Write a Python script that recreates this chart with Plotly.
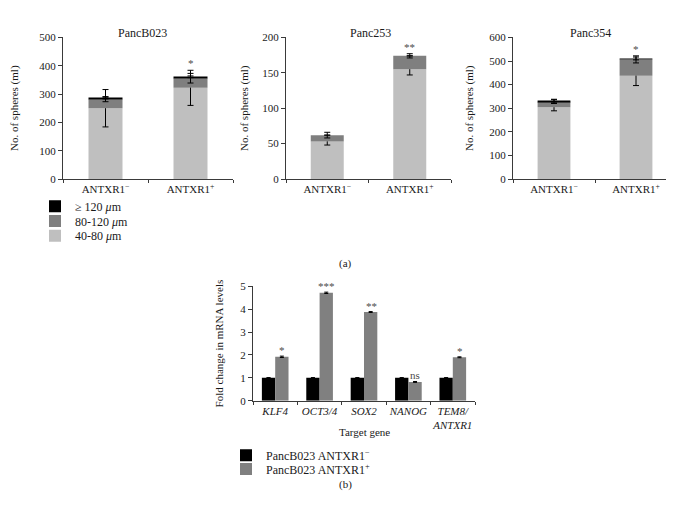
import numpy as np
import plotly.graph_objects as go

W, H = 674, 510

# ---------------- data: panel (a) ----------------
groups = ["ANTXR1<sup>−</sup>", "ANTXR1<sup>+</sup>"]
size_names = ["40-80 <i>μ</i>m", "80-120 <i>μ</i>m", "≥ 120 <i>μ</i>m"]

lines = ["PancB023", "Panc253", "Panc354"]

pancb023_40_80 = [250, 322]
pancb023_80_120 = [32, 34]
pancb023_120 = [4, 5]
pancb023_err_40_80 = [66, 62]
pancb023_err_80_120 = [9, 17]
pancb023_err_120 = [3, 3]
pancb023_sig = ["", "*"]

panc253_40_80 = [53, 155]
panc253_80_120 = [9, 19]
panc253_120 = [0, 0]
panc253_err_40_80 = [5, 8]
panc253_err_80_120 = [4, 3]
panc253_err_120 = [0, 0]
panc253_sig = ["", "**"]

panc354_40_80 = [304, 438]
panc354_80_120 = [24, 69]
panc354_120 = [4, 4]
panc354_err_40_80 = [15, 42]
panc354_err_80_120 = [8, 15]
panc354_err_120 = [6, 6]
panc354_sig = ["", "*"]

y_ranges = [[0, 500], [0, 200], [0, 600]]
y_dticks = [100, 50, 100]

# ---------------- data: panel (b) ----------------
genes = ["KLF4", "OCT3/4", "SOX2", "NANOG", "TEM8/ANTXR1"]
gene_labels = ["<i>KLF4</i>", "<i>OCT3/4</i>", "<i>SOX2</i>", "<i>NANOG</i>", "<i>TEM8/</i><br><i>ANTXR1</i>"]
fold_neg = [1.0, 1.0, 1.0, 1.0, 1.0]
fold_pos = [1.92, 4.72, 3.88, 0.82, 1.90]
fold_neg_err = [0.01, 0.01, 0.01, 0.01, 0.01]
fold_pos_err = [0.03, 0.03, 0.02, 0.02, 0.02]
fold_sig = ["*", "***", "**", "ns", "*"]
series_b = ["PancB023 ANTXR1<sup>−</sup>", "PancB023 ANTXR1<sup>+</sup>"]

# ---------------- styling ----------------
FONT = "Liberation Serif"
TXT = "#1a1a1a"
AX = "#3a3a3a"
SIG = "#4a4a4a"
size_colors = ["#bfbfbf", "#7f7f7f", "#000000"]
b_colors = ["#000000", "#808080"]

def px_x(p):
    return p / W

def px_y(p):
    return 1 - p / H

top_dom_y = [px_y(169), px_y(24)]
top_dom_x = [[px_x(55), px_x(225)], [px_x(278), px_x(443)], [px_x(505), px_x(669)]]
bot_dom_x = [px_x(245), px_x(467)]
bot_dom_y = [px_y(396), px_y(279)]

# one legend per entry so the rows can sit as close as in the reference
size_legends = ["legend4", "legend3", "legend"]     # 40-80, 80-120, >=120
size_legend_rows = [227, 212, 197]
b_legends = ["legend2", "legend5"]
b_legend_rows = [452, 466]

panel_data = [
    (pancb023_40_80, pancb023_80_120, pancb023_120,
     pancb023_err_40_80, pancb023_err_80_120, pancb023_err_120, pancb023_sig),
    (panc253_40_80, panc253_80_120, panc253_120,
     panc253_err_40_80, panc253_err_80_120, panc253_err_120, panc253_sig),
    (panc354_40_80, panc354_80_120, panc354_120,
     panc354_err_40_80, panc354_err_80_120, panc354_err_120, panc354_sig),
]

fig = go.Figure()
annotations = []

for i, (v1, v2, v3, e1, e2, e3, sig) in enumerate(panel_data):
    ax = "" if i == 0 else str(i + 1)
    stack = np.array([v1, v2, v3], dtype=float)
    errs = np.array([e1, e2, e3], dtype=float)
    cum = np.cumsum(stack, axis=0)
    bases = np.vstack([np.zeros(2), cum[:-1]])
    for k in range(3):
        fig.add_trace(go.Bar(
            x=groups, y=stack[k], base=bases[k],
            name=size_names[k], legendgroup=size_names[k],
            showlegend=(i == 0), legend=size_legends[k],
            marker=dict(color=size_colors[k], line=dict(width=0)),
            width=0.4,
            error_y=dict(type="data", array=errs[k], visible=True,
                         color="#000000", thickness=1, width=3),
            xaxis="x" + ax, yaxis="y" + ax,
        ))
    tops_err = np.max(cum + errs, axis=0)
    for j, s in enumerate(sig):
        if s:
            annotations.append(dict(
                x=groups[j], y=tops_err[j], xref="x" + ax, yref="y" + ax,
                text=s, showarrow=False, yanchor="bottom", yshift=-1,
                font=dict(family=FONT, size=11, color=SIG)))
    annotations.append(dict(
        x=[0.47, 0.51, 0.47][i], y=px_y(10), xref=("x" + ax + " domain"), yref="paper",
        text=lines[i], showarrow=False, font=dict(family=FONT, size=12, color=TXT)))

# panel (b) bars
fig.add_trace(go.Bar(
    x=genes, y=fold_neg, name=series_b[0], legend=b_legends[0],
    marker=dict(color=b_colors[0], line=dict(width=0)),
    width=0.3, offset=-0.3,
    error_y=dict(type="data", array=fold_neg_err, visible=True, color="#000000", thickness=1, width=2),
    xaxis="x4", yaxis="y4"))
fig.add_trace(go.Bar(
    x=genes, y=fold_pos, name=series_b[1], legend=b_legends[1],
    marker=dict(color=b_colors[1], line=dict(width=0)),
    width=0.3, offset=0.0,
    error_y=dict(type="data", array=fold_pos_err, visible=True, color="#000000", thickness=1, width=2),
    xaxis="x4", yaxis="y4"))

for j, s in enumerate(fold_sig):
    annotations.append(dict(
        x=genes[j], y=fold_pos[j] + fold_pos_err[j], xref="x4", yref="y4",
        text=s, showarrow=False, yanchor="bottom", xshift=7, yshift=-2,
        font=dict(family=FONT, size=11, color=SIG)))

annotations.append(dict(x=px_x(337), y=px_y(256), xref="paper", yref="paper", text="(a)",
                        showarrow=False, font=dict(family=FONT, size=11, color=TXT)))
annotations.append(dict(x=px_x(337), y=px_y(491), xref="paper", yref="paper", text="(b)",
                        showarrow=False, font=dict(family=FONT, size=11, color=TXT)))
annotations.append(dict(x=px_x(356), y=px_y(436), xref="paper", yref="paper", text="Target gene",
                        showarrow=False, font=dict(family=FONT, size=11, color=TXT)))

axis_common = dict(showline=True, linecolor=AX, linewidth=1, showgrid=False, zeroline=False,
                   ticks="outside", tickcolor=AX, ticklen=4, tickwidth=1,
                   tickfont=dict(family=FONT, size=11, color=TXT))

def legend_box(xpx, ypx):
    return dict(x=px_x(xpx), y=px_y(ypx), xanchor="left", yanchor="middle",
                font=dict(family=FONT, size=12, color=TXT), itemwidth=30,
                bgcolor="rgba(0,0,0,0)", borderwidth=0)

layout = dict(
    width=W, height=H, margin=dict(l=0, r=0, t=0, b=0),
    paper_bgcolor="white", plot_bgcolor="white",
    barmode="overlay", showlegend=True,
    font=dict(family=FONT, size=11, color=TXT),
    annotations=annotations,
)
for name, row in zip(size_legends, size_legend_rows):
    layout[name] = legend_box(27, row)
for name, row in zip(b_legends, b_legend_rows):
    layout[name] = legend_box(218, row)

y_standoffs = [21, 11, 13]
for i in range(3):
    ax = "" if i == 0 else str(i + 1)
    layout["xaxis" + ax] = dict(axis_common, domain=top_dom_x[i], anchor="y" + ax,
                                type="category", tickson="boundaries", ticklen=3)
    layout["yaxis" + ax] = dict(axis_common, domain=top_dom_y, anchor="x" + ax,
                                range=y_ranges[i], dtick=y_dticks[i],
                                title=dict(text="No. of spheres (ml)", standoff=y_standoffs[i],
                                           font=dict(family=FONT, size=11, color=TXT)))

layout["xaxis4"] = dict(axis_common, domain=bot_dom_x, anchor="y4", type="category",
                        tickson="boundaries", ticklen=3, tickangle=0,
                        tickmode="array", tickvals=genes, ticktext=gene_labels)
layout["yaxis4"] = dict(axis_common, domain=bot_dom_y, anchor="x4", range=[0, 5], dtick=1,
                        title=dict(text="Fold change in mRNA levels", standoff=14,
                                   font=dict(family=FONT, size=11, color=TXT)))

fig.update_layout(**layout)
fig.write_html("out.html")
